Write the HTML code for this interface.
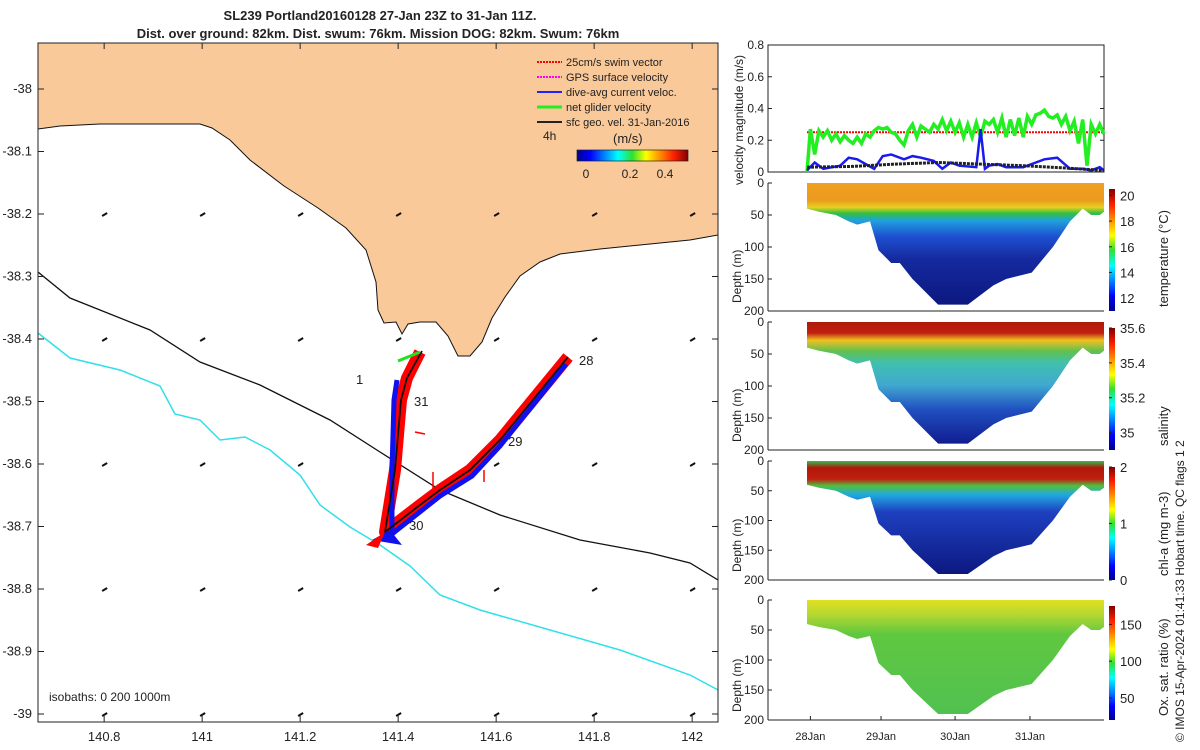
<!DOCTYPE html>
<html><head><meta charset="utf-8"><style>
body{margin:0;background:#fff;font-family:"Liberation Sans",sans-serif}
svg{display:block}
text{font-family:"Liberation Sans",sans-serif;fill:#222}
</style></head><body>
<svg id="c" width="1200" height="750" viewBox="0 0 1200 750">
<defs>
<clipPath id="mapclip"><rect x="38" y="43" width="680" height="679"/></clipPath>
<linearGradient id="gT" x1="0" y1="0" x2="0" y2="1">
<stop offset="0" stop-color="#f0a020"/><stop offset="0.14" stop-color="#eb9a1e"/><stop offset="0.2" stop-color="#e8d020"/><stop offset="0.25" stop-color="#30c040"/><stop offset="0.31" stop-color="#20a0e0"/><stop offset="0.44" stop-color="#1e50d0"/><stop offset="0.62" stop-color="#152aa0"/><stop offset="1" stop-color="#0c1880"/></linearGradient>
<linearGradient id="gS" x1="0" y1="0" x2="0" y2="1">
<stop offset="0" stop-color="#b01808"/><stop offset="0.09" stop-color="#c02010"/><stop offset="0.15" stop-color="#f0c020"/><stop offset="0.24" stop-color="#60c050"/><stop offset="0.34" stop-color="#40c0b0"/><stop offset="0.52" stop-color="#40a8d0"/><stop offset="0.72" stop-color="#2050c0"/><stop offset="1" stop-color="#101c90"/></linearGradient>
<linearGradient id="gC" x1="0" y1="0" x2="0" y2="1">
<stop offset="0" stop-color="#30c050"/><stop offset="0.06" stop-color="#b01808"/><stop offset="0.16" stop-color="#c02010"/><stop offset="0.22" stop-color="#50c040"/><stop offset="0.3" stop-color="#20a8e0"/><stop offset="0.45" stop-color="#1e40c0"/><stop offset="1" stop-color="#0c1880"/></linearGradient>
<linearGradient id="gO" x1="0" y1="0" x2="0" y2="1">
<stop offset="0" stop-color="#e0e020"/><stop offset="0.12" stop-color="#b8d830"/><stop offset="0.3" stop-color="#60c840"/><stop offset="1" stop-color="#50c050"/></linearGradient>
<linearGradient id="gJet" x1="0" y1="0" x2="1" y2="0">
<stop offset="0" stop-color="#00008f"/><stop offset="0.12" stop-color="#0000ff"/><stop offset="0.37" stop-color="#00ffff"/><stop offset="0.5" stop-color="#30e030"/><stop offset="0.62" stop-color="#ffff00"/><stop offset="0.87" stop-color="#ff2000"/><stop offset="1" stop-color="#800000"/></linearGradient>
<linearGradient id="gJetV" x1="0" y1="1" x2="0" y2="0">
<stop offset="0" stop-color="#00008f"/><stop offset="0.12" stop-color="#0000ff"/><stop offset="0.37" stop-color="#00ffff"/><stop offset="0.5" stop-color="#30e030"/><stop offset="0.62" stop-color="#ffff00"/><stop offset="0.87" stop-color="#ff2000"/><stop offset="1" stop-color="#800000"/></linearGradient>
</defs>

<text x="380" y="20" text-anchor="middle" font-size="13" font-weight="bold">SL239 Portland20160128 27-Jan 23Z to 31-Jan 11Z.</text>
<text x="378" y="38" text-anchor="middle" font-size="13" font-weight="bold">Dist. over ground: 82km. Dist. swum: 76km. Mission DOG: 82km. Swum: 76km</text>

<g clip-path="url(#mapclip)">
<rect x="38" y="43" width="680" height="679" fill="#fff"/>
<path fill="#fac99a" stroke="#111" stroke-width="1" d="M38,43 L718,43 L718,235 L690,240 L650,244 L600,249 L560,254 L540,262 L520,276 L505,297 L492,318 L482,342 L470,356 L458,356 L448,336 L436,322 L420,322 L408,324 L402,334 L396,322 L384,323 L378,310 L376,282 L366,250 L346,228 L318,208 L284,186 L250,160 L230,140 L212,128 L200,124 L150,124 L100,124 L60,126 L38,129 Z"/>
<path d="M38,272 L70,298 L150,330 L200,362 L260,385 L330,420 L380,452 L440,490 L500,515 L580,540 L650,553 L690,563 L718,580" fill="none" stroke="#111" stroke-width="1.3"/>
<path d="M38,333 L70,358 L120,370 L160,386 L175,414 L200,420 L220,440 L245,437 L270,450 L300,475 L320,505 L350,527 L380,545 L410,566 L440,595 L480,610 L550,630 L620,650 L690,675 L718,690" fill="none" stroke="#30e0e8" stroke-width="1.5"/>
<g id="gridarrows"></g>
<g>
<path d="M568,357 L500,440 L470,470 L440,490 L420,505 L385,532 L395,470 L401,400 L407,378 L420,352" fill="none" stroke="#ff0000" stroke-width="12" stroke-linejoin="round"/>
<path d="M566,364 L500,446 L472,476 L440,496 L392,534 L392,470 L394,400 L397,380" fill="none" stroke="#1010ee" stroke-width="5"/>
<path d="M568,357 L500,440 L470,470 L440,490 L420,505 L385,532 L395,470 L401,400 L407,378 L422,351" fill="none" stroke="#111" stroke-width="1.8"/>
<path d="M372,540 L390,530 L402,545 Z" fill="#1010ee"/>
<path d="M366,545 L385,532 L378,548 Z" fill="#ff0000"/>
<path d="M420,352 L398,361" stroke="#20e020" stroke-width="3"/>
<path d="M415,432 L425,434 M484,470 L484,482 M433,472 L433,490" stroke="#ff0000" stroke-width="1.5"/>
</g>
<text x="356" y="384" font-size="13">1</text>
<text x="414" y="406" font-size="13">31</text>
<text x="579" y="365" font-size="13">28</text>
<text x="508" y="446" font-size="13">29</text>
<text x="409" y="530" font-size="13">30</text>
<text x="49" y="701" font-size="12">isobaths: 0   200  1000m</text>
<g font-size="11">
<line x1="537" y1="62" x2="562" y2="62" stroke="#f00" stroke-width="2" stroke-dasharray="2,1"/><text x="566" y="66">25cm/s swim vector</text>
<line x1="537" y1="77" x2="562" y2="77" stroke="#f0f" stroke-width="2" stroke-dasharray="2,1"/><text x="566" y="81">GPS surface velocity</text>
<line x1="537" y1="92" x2="562" y2="92" stroke="#22f" stroke-width="2"/><text x="566" y="96">dive-avg current veloc.</text>
<line x1="537" y1="107" x2="562" y2="107" stroke="#2e2" stroke-width="3"/><text x="566" y="111">net glider velocity</text>
<line x1="537" y1="122" x2="562" y2="122" stroke="#222" stroke-width="2"/><text x="566" y="126">sfc geo. vel. 31-Jan-2016</text>
<text x="543" y="140" font-size="12">4h</text>
<text x="613" y="143" font-size="13">(m/s)</text>
<rect x="577" y="150" width="111" height="11" fill="url(#gJet)" stroke="#222" stroke-width="0.7"/>
<text x="586" y="178" font-size="12" text-anchor="middle">0</text>
<text x="630" y="178" font-size="12" text-anchor="middle">0.2</text>
<text x="665" y="178" font-size="12" text-anchor="middle">0.4</text>
</g>
</g>
<rect x="38" y="43" width="680" height="679" fill="none" stroke="#222"/>
<g id="mapaxes" font-size="12"></g>

<g id="right"></g>
<text transform="translate(1184,742) rotate(-90)" font-size="12">© IMOS 15-Apr-2024 01:41:33 Hobart time. QC flags 1  2</text>
</svg>
<script>
const NS='http://www.w3.org/2000/svg';
const lonTicks=[140.8,141,141.2,141.4,141.6,141.8,142];
const latTicks=[-38,-38.1,-38.2,-38.3,-38.4,-38.5,-38.6,-38.7,-38.8,-38.9,-39];
const geoLons=[140.8,141,141.2,141.4,141.6,141.8,142];
const geoLats=[-38.2,-38.4,-38.6,-38.8,-39];
const dayTicks=['28Jan','29Jan','30Jan','31Jan'];
const dayVals=[1,1.83,2.7,3.58];
const velT=[0.96,1.0,1.05,1.1,1.15,1.2,1.25,1.3,1.35,1.4,1.45,1.5,1.55,1.6,1.65,1.7,1.75,1.8,1.85,1.9,1.95,2.0,2.05,2.1,2.15,2.2,2.25,2.3,2.35,2.4,2.45,2.5,2.55,2.6,2.65,2.7,2.75,2.8,2.85,2.9,2.95,3.0,3.05,3.1,3.15,3.2,3.25,3.3,3.35,3.4,3.45,3.5,3.55,3.6,3.65,3.7,3.75,3.8,3.85,3.9,3.95,4.0,4.05,4.1,4.15,4.2,4.25,4.3,4.35,4.4,4.45];
const netVel=[0,0.27,0.11,0.26,0.22,0.26,0.2,0.24,0.19,0.23,0.2,0.18,0.22,0.18,0.24,0.22,0.26,0.28,0.27,0.28,0.25,0.24,0.2,0.17,0.26,0.3,0.22,0.29,0.27,0.25,0.3,0.27,0.33,0.26,0.32,0.25,0.31,0.22,0.3,0.22,0.31,0.22,0.32,0.3,0.33,0.25,0.34,0.22,0.33,0.23,0.34,0.22,0.35,0.3,0.36,0.37,0.39,0.35,0.34,0.36,0.3,0.35,0.26,0.32,0.18,0.33,0.04,0.3,0.24,0.3,0.24];
const currT=[0.96,1.05,1.15,1.35,1.45,1.55,1.65,1.75,1.85,1.95,2.1,2.2,2.3,2.45,2.55,2.65,2.75,2.95,3.0,3.05,3.1,3.2,3.3,3.5,3.65,3.75,3.9,4.05,4.2,4.3,4.4,4.45];
const currVel=[0.01,0.06,0.02,0.04,0.09,0.08,0.05,0.02,0.1,0.11,0.08,0.1,0.09,0.07,0.02,0.06,0.04,0.03,0.27,0.02,0.04,0.05,0.03,0.03,0.06,0.08,0.09,0.02,0.02,0.01,0.03,0.01];
const geoT=[0.96,1.5,2.0,2.5,3.0,3.5,4.0,4.45];
const geoVel=[0.03,0.035,0.05,0.06,0.05,0.04,0.025,0.01];
const swimVel=[0.25,0.25];
const swimT=[0.96,4.45];
const bottomT=[0.96,1.1,1.3,1.45,1.55,1.7,1.8,1.95,2.05,2.2,2.5,2.7,2.85,3.15,3.3,3.6,3.85,4.05,4.2,4.3,4.4,4.45];
const bottomD=[40,45,50,60,65,60,105,125,125,150,190,190,190,160,150,140,100,60,40,50,50,45];
const svg=document.getElementById('c');
function el(t,a,p){const e=document.createElementNS(NS,t);for(const k in a)e.setAttribute(k,a[k]);(p||svg).appendChild(e);return e;}
const lonX=v=>38+(v-140.665)*490;
const latY=v=>89+(-38-v)*625;
const ma=document.getElementById('mapaxes');
lonTicks.forEach(v=>{const x=lonX(v);el('line',{x1:x,y1:722,x2:x,y2:716,stroke:'#222'},ma);el('line',{x1:x,y1:43,x2:x,y2:49,stroke:'#222'},ma);
const t=el('text',{x:x,y:741,'text-anchor':'middle','font-size':13},ma);t.textContent=String(v);

});
latTicks.forEach(v=>{const y=latY(v);el('line',{x1:38,y1:y,x2:44,y2:y,stroke:'#222'},ma);el('line',{x1:718,y1:y,x2:712,y2:y,stroke:'#222'},ma);
const t=el('text',{x:32,y:y+4,'text-anchor':'end','font-size':13},ma);t.textContent=String(v);

});
const ga=document.getElementById('gridarrows');
geoLats.forEach(la=>geoLons.forEach(lo=>{const x=lonX(lo),y=latY(la);const a=el('line',{x1:x-2,y1:y+2,x2:x+3,y2:y-1,stroke:'#111','stroke-width':2},ga);

}));
const R=document.getElementById('right');
const X0=768,X1=1104;const dX=d=>807+(d-0.96)*85.1;
function frame(y0,y1,name){const r=el('rect',{x:X0,y:y0,width:X1-X0,height:y1-y0,fill:'none',stroke:'#222'},R);}
const vy0=45,vy1=172;const vY=v=>vy1-v/0.8*(vy1-vy0);
frame(vy0,vy1,'velocity-panel-frame');
[0,0.2,0.4,0.6,0.8].forEach(v=>{const y=vY(v);el('line',{x1:X0,y1:y,x2:X0+4,y2:y,stroke:'#222'},R);el('line',{x1:X1,y1:y,x2:X1-4,y2:y,stroke:'#222'},R);
const t=el('text',{x:764,y:y+4,'text-anchor':'end','font-size':12},R);t.textContent=String(v);

});
const vt=el('text',{transform:'translate(743,185) rotate(-90)','font-size':12},R);vt.textContent='velocity magnitude (m/s)';


function line(ts,vs,attrs,name){const d=ts.map((t,i)=>(i?'L':'M')+dX(t).toFixed(1)+','+vY(vs[i]).toFixed(1)).join('');const p=el('path',Object.assign({d:d,fill:'none'},attrs),R);}
line(swimT,swimVel,{stroke:'#f00','stroke-width':2,'stroke-dasharray':'2,1'},'swim-speed-line');
line(velT,netVel,{stroke:'#22ee22','stroke-width':3.5},'net-velocity-line');
line(currT,currVel,{stroke:'#1a1aee','stroke-width':2.5},'current-velocity-line');
line(geoT,geoVel,{stroke:'#222','stroke-width':3,'stroke-dasharray':'3,1'},'geo-velocity-line');
const panels=[{y0:183,y1:311,g:'gT',ticks:['20','18','16','14','12'],tv:[20,18,16,14,12],min:11,max:20.5,lab:'temperature (°C)',n:'temperature'},
{y0:322,y1:450,g:'gS',ticks:['35.6','35.4','35.2','35'],tv:[35.6,35.4,35.2,35],min:34.9,max:35.6,lab:'salinity',n:'salinity'},
{y0:461,y1:580,g:'gC',ticks:['2','1','0'],tv:[2,1,0],min:0,max:2,lab:'chl-a (mg m-3)',n:'chlorophyll'},
{y0:600,y1:720,g:'gO',ticks:['150','100','50'],tv:[150,100,50],min:20,max:175,lab:'Ox. sat. ratio (%)',n:'oxygen'}];
panels.forEach((p,k)=>{const dY=d=>p.y0+d/200*(p.y1-p.y0);
let d='M'+dX(bottomT[0])+','+dY(0);bottomT.forEach((t,i)=>{d+='L'+dX(t).toFixed(1)+','+dY(bottomD[i]).toFixed(1);});d+='L'+dX(bottomT[bottomT.length-1])+','+dY(0)+'Z';
const s=el('path',{d:d,fill:'url(#'+p.g+')'},R);
el('line',{x1:X0,y1:p.y1,x2:X1,y2:p.y1,stroke:'#222'},R);el('line',{x1:X0,y1:p.y0,x2:X0,y2:p.y1,stroke:'#222'},R);
[0,50,100,150,200].forEach(v=>{const y=dY(v);el('line',{x1:X0,y1:y,x2:X0+4,y2:y,stroke:'#222'},R);
const t=el('text',{x:764,y:y+4,'text-anchor':'end','font-size':12},R);t.textContent=String(v);

});
const yt=el('text',{transform:'translate(741,'+(p.y1-8)+') rotate(-90)','font-size':12},R);yt.textContent='Depth (m)';


const cb=el('rect',{x:1109,y:p.y0+6,width:6,height:p.y1-p.y0-6,fill:'url(#gJetV)'},R);
p.tv.forEach((v,i)=>{const y=p.y1-(v-p.min)/(p.max-p.min)*(p.y1-p.y0-6);el('line',{x1:1109,y1:y,x2:1112,y2:y,stroke:'#222'},R);
const t=el('text',{x:1120,y:y+5,'font-size':13},R);t.textContent=p.ticks[i];

});
const ct=el('text',{transform:'translate(1168,'+(p.y1-4)+') rotate(-90)','font-size':13},R);ct.textContent=p.lab;


});
dayVals.forEach((v,i)=>{const x=dX(v);el('line',{x1:x,y1:720,x2:x,y2:716,stroke:'#222'},R);
const t=el('text',{x:x,y:740,'text-anchor':'middle','font-size':11},R);t.textContent=dayTicks[i];

});
</script>
</body></html>
